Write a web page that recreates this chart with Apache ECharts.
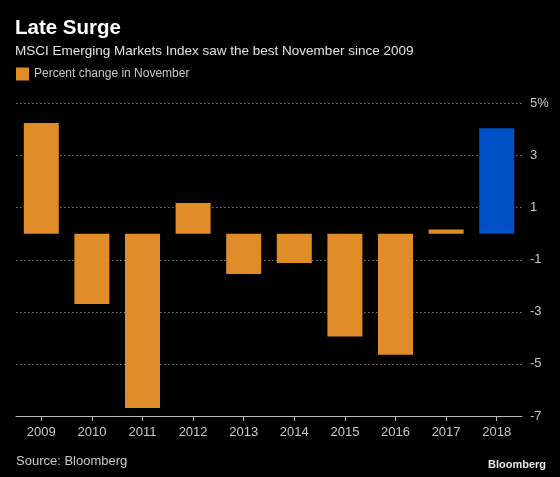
<!DOCTYPE html>
<html>
<head>
<meta charset="utf-8">
<script src="https://cdn.jsdelivr.net/npm/echarts@6/dist/echarts.min.js"></script>
<style>
html,body{margin:0;padding:0;background:#000;}
#c{width:560px;height:477px;}
</style>
</head>
<body>
<div id="c"></div>
<script>
var years = ['2009','2010','2011','2012','2013','2014','2015','2016','2017','2018'];
var pctChange = [4.25, -2.7, -6.69, 1.18, -1.55, -1.12, -3.95, -4.65, 0.16, 4.05];
var highlightYear = '2018';
var yTicks = {min: -7, max: 5, interval: 2};

var ORANGE = '#e08c28';
var BLUE = '#0050c6';
var FONT = 'Liberation Sans';

var chart = echarts.init(document.getElementById('c'), null, {renderer: 'canvas'});
chart.setOption({
  backgroundColor: '#000',
  animation: false,
  textStyle: {fontFamily: FONT},
  title: [
    {text: 'Late Surge', left: 15, top: 17.5, padding: 0,
     textStyle: {color: '#fff', fontSize: 20.5, fontWeight: 'bold', fontFamily: FONT}},
    {text: 'MSCI Emerging Markets Index saw the best November since 2009', left: 15, top: 44.5, padding: 0,
     textStyle: {color: '#e0e0e0', fontSize: 13.5, fontWeight: 'normal', fontFamily: FONT}},
    {text: 'Source: Bloomberg', left: 16, top: 455, padding: 0,
     textStyle: {color: '#c8c8c8', fontSize: 13, fontWeight: 'normal', fontFamily: FONT}},
    {text: 'Bloomberg', right: 14, top: 459, padding: 0,
     textStyle: {color: '#e6e6e6', fontSize: 11, fontWeight: 'bold', fontFamily: FONT}}
  ],
  legend: {
    left: 16, top: 67.5, padding: 0, icon: 'rect', itemWidth: 13, itemHeight: 13, itemGap: 6,
    textStyle: {color: '#c8c8c8', fontSize: 12, fontFamily: FONT},
    data: ['Percent change in November']
  },
  grid: {left: 16, right: 38, top: 103.5, bottom: 61, containLabel: false},
  xAxis: {
    type: 'category',
    data: years,
    axisLine: {onZero: false, lineStyle: {color: '#bbb', width: 1}},
    axisTick: {show: true, alignWithLabel: true, length: 5, lineStyle: {color: '#bbb'}},
    axisLabel: {color: '#c8c8c8', fontSize: 13, margin: 10, fontFamily: FONT},
    splitLine: {show: false}
  },
  yAxis: {
    type: 'value',
    position: 'right',
    min: yTicks.min, max: yTicks.max, interval: yTicks.interval,
    axisLine: {show: false},
    axisTick: {show: false},
    axisLabel: {
      color: '#c8c8c8', fontSize: 13, margin: 8, align: 'left', fontFamily: FONT,
      formatter: function (v) { return v === yTicks.max ? v + '%' : String(v); }
    },
    splitLine: {show: true, lineStyle: {color: '#777', type: [1.5, 2.5], width: 1}}
  },
  series: [{
    name: 'Percent change in November',
    type: 'bar',
    barWidth: 35,
    itemStyle: {color: ORANGE},
    data: pctChange.map(function (v, i) {
      return years[i] === highlightYear ? {value: v, itemStyle: {color: BLUE}} : v;
    })
  }]
});
</script>
</body>
</html>
